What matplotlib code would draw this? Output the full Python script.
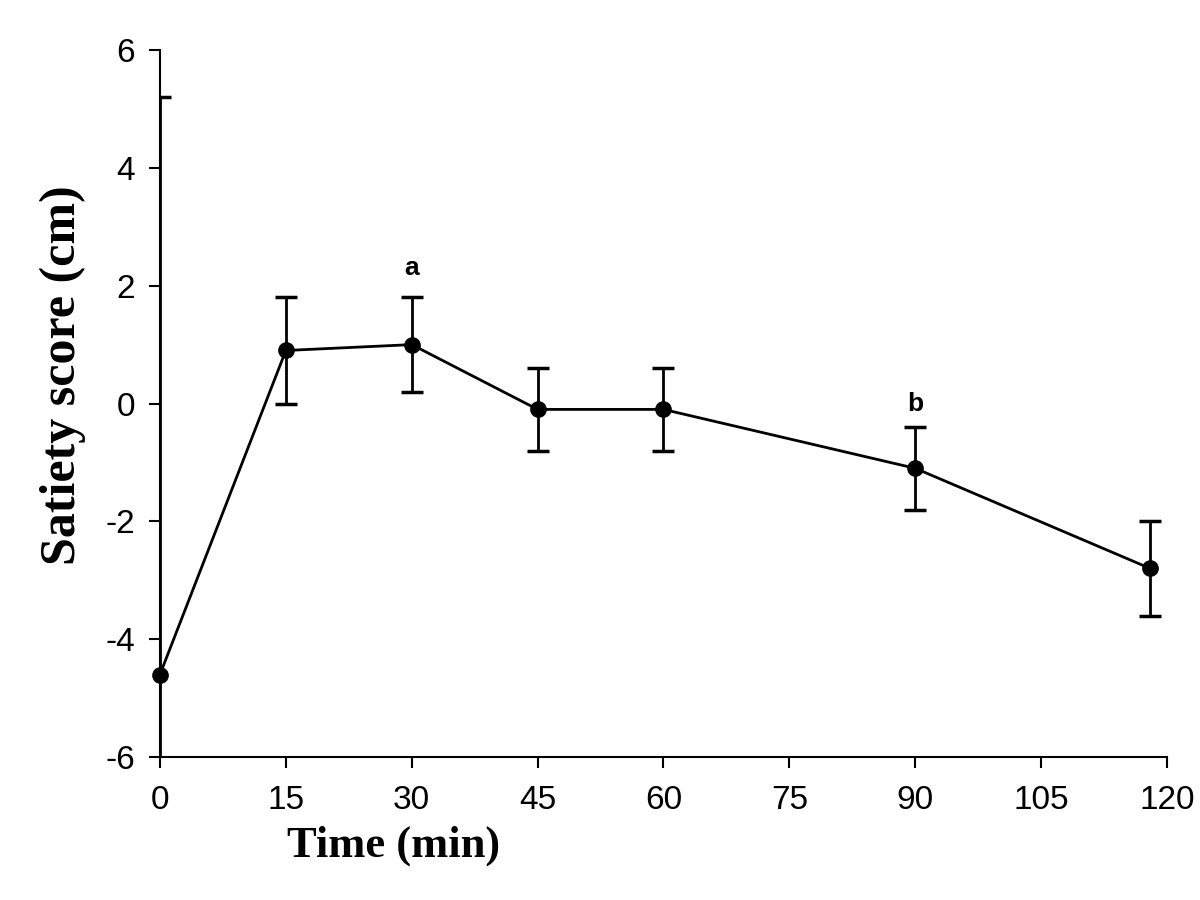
import matplotlib.pyplot as plt
import numpy as np

plt.rcParams["axes.unicode_minus"] = False

# Satiety score over time
time_min = [0, 15, 30, 45, 60, 90, 118]
satiety = [-4.6, 0.9, 1.0, -0.1, -0.1, -1.1, -2.8]
err = [9.8, 0.9, 0.8, 0.7, 0.7, 0.7, 0.8]

letters = ["a", "b"]
letter_x = [30, 90]
letter_y = [2.3, 0.0]

fig = plt.figure(figsize=(12, 9), dpi=100)
ax = fig.add_axes([0.1333, 0.1589, 0.8392, 0.7855])

ax.errorbar(time_min, satiety, yerr=err, fmt="none", ecolor="black",
            elinewidth=2, capsize=8, capthick=2.5)
ax.plot(time_min, satiety, color="black", lw=2, marker="o",
        markersize=11, clip_on=False, zorder=5)

for t, x, y in zip(letters, letter_x, letter_y):
    ax.text(x, y, t, ha="center", va="center", fontsize=19,
            fontweight="bold", family="Liberation Sans")

ax.set_xlim(0, 120)
ax.set_ylim(-6, 6)
ax.set_xticks(np.arange(0, 121, 15))
ax.set_yticks(np.arange(-6, 7, 2))
ax.spines["top"].set_visible(False)
ax.spines["right"].set_visible(False)
for s in ["left", "bottom"]:
    ax.spines[s].set_linewidth(1.5)
ax.tick_params(direction="out", length=8, width=1.5, labelsize=24, pad=10)
ax.tick_params(axis="x", pad=12)
for lab in ax.get_xticklabels() + ax.get_yticklabels():
    lab.set_family("Liberation Sans")

fig.text(0.052, 0.583, "Satiety score (cm)", rotation=90, ha="center", va="center",
         fontsize=36, fontweight="bold", family="Liberation Serif")
fig.text(0.328, 0.06, "Time (min)", ha="center", va="center",
         fontsize=32, fontweight="bold", family="Liberation Serif")

fig.savefig("out.png", dpi=100)
